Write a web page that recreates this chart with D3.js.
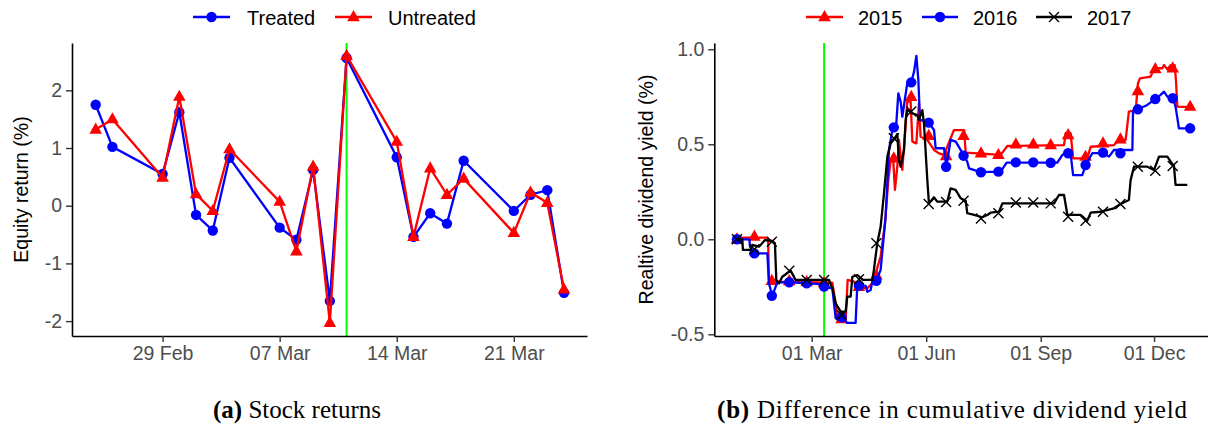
<!DOCTYPE html>
<html>
<head>
<meta charset="utf-8">
<script src="https://cdn.jsdelivr.net/npm/d3@7"></script>
<style>
  body { margin: 0; background: #fff; }
  svg { display: block; font-family: "Liberation Sans", Arial, sans-serif; }
</style>
</head>
<body>
<svg id="chart" width="1208" height="430"></svg>
<script>
// ---- panel (a): daily stock returns, 2016 ----
const retDates = ["2016-02-25","2016-02-26","2016-02-29","2016-03-01","2016-03-02","2016-03-03","2016-03-04",
  "2016-03-07","2016-03-08","2016-03-09","2016-03-10","2016-03-11","2016-03-14","2016-03-15","2016-03-16",
  "2016-03-17","2016-03-18","2016-03-21","2016-03-22","2016-03-23","2016-03-24"];
const treated   = [1.75, 1.02, 0.55, 1.62, -0.16, -0.43, 0.83, -0.38, -0.59, 0.62, -1.65, 2.56, 0.84, -0.54, -0.13, -0.31, 0.78, -0.09, 0.19, 0.27, -1.51];
const untreated = [1.32, 1.50, 0.49, 1.89, 0.20, -0.09, 0.98, 0.07, -0.79, 0.68, -2.03, 2.60, 1.11, -0.54, 0.65, 0.19, 0.47, -0.47, 0.23, 0.05, -1.45];
const retTicks = ["2016-02-29","2016-03-07","2016-03-14","2016-03-21"];
const retYTicks = [-2, -1, 0, 1, 2];
const eventDate = "2016-03-11";

// ---- panel (b): relative cumulative dividend yield, [day of year, value] ----
const line2015 = [[0,0],[4.3,0.009],[23,0.009],[25,0.005],[25.7,-0.214],[33.8,-0.223],[76.6,-0.228],[79.3,-0.337],
  [80.6,-0.421],[87.3,-0.425],[88.9,-0.214],[94,-0.223],[98,-0.25],[104.7,-0.258],[108.7,-0.232],[111.4,-0.179],
  [115.4,-0.091],[118.9,0.084],[121.6,0.312],[123.5,0.417],[125.3,0.444],[126.9,0.26],[128.8,0.382],[130.1,0.523],
  [132.8,0.365],[135,0.558],[136.8,0.724],[139.5,0.724],[140.9,0.514],[144.1,0.505],[146.2,0.716],[147.5,0.54],
  [152.9,0.523],[158.3,0.47],[162.3,0.452],[166.3,0.444],[174.3,0.575],[182.5,0.575],[183.7,0.456],[211.8,0.444],
  [217.2,0.491],[262.7,0.496],[264,0.558],[268,0.558],[270,0.426],[281.4,0.426],[284.1,0.487],[302.8,0.496],
  [306.8,0.523],[312.2,0.523],[314.8,0.672],[320.3,0.68],[322.1,0.821],[323.7,0.847],[332.3,0.856],[335,0.9],
  [341.7,0.9],[343,0.917],[345.7,0.894],[348.4,0.917],[351.6,0.917],[352.6,0.838],[353.7,0.698],[363.8,0.695]];
const line2016 = [[0,0],[10,0],[10.5,-0.04],[14.5,-0.074],[24.4,-0.074],[25.7,-0.232],[28.4,-0.297],[32.4,-0.227],
  [42,-0.226],[56,-0.232],[65,-0.235],[70,-0.249],[76.6,-0.258],[79.3,-0.416],[84.1,-0.41],[88.6,-0.44],[95.3,-0.44],
  [96.7,-0.238],[98,-0.241],[103.4,-0.245],[104.7,-0.276],[107.4,-0.267],[108.7,-0.223],[112,-0.218],[115.4,-0.161],
  [119.4,0.119],[122.1,0.47],[124.8,0.575],[126.1,0.589],[128,0.61],[129.6,0.768],[131.5,0.724],[132.8,0.645],
  [136.8,0.821],[140,0.826],[142.2,0.881],[144.1,0.965],[145.7,0.838],[147,0.628],[151.6,0.619],[154,0.614],
  [158.3,0.575],[159.6,0.479],[166.3,0.479],[168.2,0.382],[171.6,0.523],[175.7,0.514],[182.4,0.44],[185,0.408],
  [186.4,0.373],[195.7,0.353],[211.8,0.356],[216.6,0.403],[257.3,0.403],[261.4,0.444],[265.4,0.461],[268.1,0.444],
  [270,0.338],[277.4,0.338],[280.1,0.391],[285.4,0.453],[294.8,0.453],[298.8,0.435],[302.8,0.47],[317.6,0.47],
  [318.1,0.672],[322.1,0.684],[329.6,0.707],[335.8,0.738],[340.3,0.76],[343,0.777],[345.7,0.751],[350.2,0.742],
  [352.3,0.698],[355,0.584],[363.8,0.584]];
const line2017 = [[0,0],[4.3,0],[4.8,-0.056],[11,-0.056],[12.3,-0.03],[17.7,-0.039],[22.5,-0.004],[28.4,-0.009],
  [30.5,-0.021],[31.6,-0.214],[33.8,-0.232],[36.4,-0.197],[43.1,-0.165],[47.1,-0.214],[73.9,-0.214],[76.6,-0.258],
  [79.3,-0.337],[83.3,-0.381],[87.3,-0.381],[88.6,-0.302],[91.3,-0.302],[92.7,-0.197],[96.7,-0.188],[101.2,-0.214],
  [108.7,-0.214],[110,-0.161],[112.7,-0.021],[115.4,0.066],[118.1,0.242],[120.8,0.435],[123.5,0.505],[126.9,0.532],
  [128.8,0.554],[130.1,0.417],[131.5,0.382],[134.2,0.47],[135.5,0.628],[136.8,0.68],[140.9,0.663],[144.9,0.654],
  [146.2,0.628],[148.9,0.68],[150.2,0.61],[151,0.523],[152.9,0.312],[154.2,0.189],[158.2,0.221],[160.9,0.198],
  [168.9,0.198],[171.6,0.268],[175.6,0.26],[179.7,0.216],[183.7,0.203],[185,0.137],[189,0.131],[197.1,0.116],
  [201.1,0.128],[203.8,0.14],[210.5,0.145],[213.2,0.189],[254.7,0.189],[258.6,0.233],[262.7,0.233],[265.4,0.128],
  [276,0.128],[281.4,0.098],[284.1,0.14],[292.1,0.145],[302.8,0.163],[308.2,0.186],[314.8,0.207],[316.2,0.312],
  [318.9,0.382],[329.6,0.382],[335,0.365],[339,0.435],[345.7,0.435],[348.4,0.409],[351,0.386],[352.3,0.286],[361.7,0.286]];
// markers every 14 days (day 0, 14, 28, ...)
const mark2015 = [0, 0.014, -0.218, -0.22, -0.225, -0.23, -0.42, -0.25, -0.19, 0.426, 0.75, 0.545, 0.438, 0.544,
  0.453, 0.444, 0.5, 0.5, 0.496, 0.549, 0.435, 0.505, 0.526, 0.78, 0.896, 0.9, 0.698];
const mark2016 = [0, -0.074, -0.297, -0.226, -0.232, -0.249, -0.41, -0.244, -0.218, 0.589, 0.826, 0.614, 0.382, 0.44,
  0.353, 0.356, 0.405, 0.405, 0.403, 0.453, 0.391, 0.456, 0.453, 0.684, 0.738, 0.742, 0.584];
const mark2017 = [0, -0.053, -0.013, -0.165, -0.214, -0.214, -0.398, -0.21, -0.021, 0.532, 0.672, 0.186, 0.196, 0.203,
  0.11, 0.137, 0.193, 0.193, 0.189, 0.119, 0.098, 0.145, 0.186, 0.382, 0.361, 0.386];
const divTicks = ["2016-03-01","2016-06-01","2016-09-01","2016-12-01"];
const divYTicks = [-0.5, 0, 0.5, 1.0];
const eventDay = 70;

const parse = d3.timeParse("%Y-%m-%d");
const dayToDate = d => new Date(new Date(2016, 0, 1).getTime() + d * 864e5);
const svg = d3.select("#chart");
const tickGrey = "#4d4d4d";
const FS = 19.5;

function styleAxis(g) {
  g.select(".domain").attr("stroke", "#000").attr("stroke-width", 1.6);
  g.selectAll(".tick line").attr("stroke", "#333").attr("stroke-width", 1.4);
  g.selectAll(".tick text").attr("fill", tickGrey).attr("font-size", FS)
    .attr("font-family", "Liberation Sans, Arial, sans-serif");
}

function triangle(sel, s) {
  return sel.attr("d", `M0,${-s}L${s*0.9},${s*0.6}L${-s*0.9},${s*0.6}Z`);
}
function cross(sel, s) {
  return sel.attr("d", `M${-s},${-s}L${s},${s}M${-s},${s}L${s},${-s}`);
}

// ================= panel (a) =================
const yTop = 43, yBot = 336;
let xA = d3.scaleTime()
  .domain([d3.timeHour.offset(parse(retDates[0]), -33.6), d3.timeHour.offset(parse(retDates[retDates.length-1]), 33.6)])
  .range([72, 587]);
let yA = d3.scaleLinear().domain([-2.258, 2.82]).range([yBot, yTop]);

svg.append("line").attr("x1", xA(parse(eventDate))).attr("x2", xA(parse(eventDate)))
  .attr("y1", yTop).attr("y2", yBot).attr("stroke", "#00ff00").attr("stroke-width", 2);

let lineA = d3.line().x((d, i) => xA(parse(retDates[i]))).y(d => yA(d));
svg.append("path").datum(treated).attr("d", lineA).attr("fill", "none").attr("stroke", "#0000ff").attr("stroke-width", 2.3);
svg.append("g").selectAll("circle").data(treated).join("circle")
  .attr("cx", (d, i) => xA(parse(retDates[i]))).attr("cy", d => yA(d)).attr("r", 5.2).attr("fill", "#0000ff");
svg.append("path").datum(untreated).attr("d", lineA).attr("fill", "none").attr("stroke", "#ff0000").attr("stroke-width", 2.3);
svg.append("g").selectAll("path").data(untreated).join("path")
  .attr("transform", (d, i) => `translate(${xA(parse(retDates[i]))},${yA(d)})`)
  .call(triangle, 7).attr("fill", "#ff0000");

svg.append("g").attr("transform", `translate(72,0)`)
  .call(d3.axisLeft(yA).tickValues(retYTicks).tickFormat(d => String(d)).tickSize(6).tickSizeOuter(0).tickPadding(4))
  .call(styleAxis);
svg.append("g").attr("transform", `translate(0,${yBot})`)
  .call(d3.axisBottom(xA).tickValues(retTicks.map(parse)).tickFormat(d3.timeFormat("%d %b")).tickSize(6).tickSizeOuter(0).tickPadding(4))
  .call(styleAxis);

svg.append("text").attr("transform", `translate(28,${(yTop+yBot)/2}) rotate(-90)`)
  .attr("text-anchor", "middle").attr("font-size", FS).attr("fill", "#000").text("Equity return (%)");

// legend (a)
let lg = svg.append("g").attr("font-size", 20);
lg.append("line").attr("x1", 193).attr("x2", 230).attr("y1", 17).attr("y2", 17).attr("stroke", "#0000ff").attr("stroke-width", 2.3);
lg.append("circle").attr("cx", 211.5).attr("cy", 17).attr("r", 5.2).attr("fill", "#0000ff");
lg.append("text").attr("x", 247).attr("y", 24.5).text("Treated");
lg.append("line").attr("x1", 335).attr("x2", 372).attr("y1", 17).attr("y2", 17).attr("stroke", "#ff0000").attr("stroke-width", 2.3);
lg.append("path").attr("transform", "translate(353.5,17)").call(triangle, 7).attr("fill", "#ff0000");
lg.append("text").attr("x", 388).attr("y", 24.5).text("Untreated");

// ================= panel (b) =================
let xB = d3.scaleLinear().domain([-18.2, 382]).range([714.3, 714.3 + 400.2 * 1.245]);
let xBt = d3.scaleTime().domain([dayToDate(-18.2), dayToDate(382)]).range(xB.range());
let yB = d3.scaleLinear().domain([-0.509, 1.033]).range([yBot, yTop]);

svg.append("line").attr("x1", xB(eventDay)).attr("x2", xB(eventDay))
  .attr("y1", yTop).attr("y2", yBot).attr("stroke", "#00ff00").attr("stroke-width", 2);

let lineB = d3.line().x(d => xB(d[0])).y(d => yB(d[1]));
const series = [
  {line: line2015, marks: mark2015, col: "#ff0000", shape: "tri"},
  {line: line2016, marks: mark2016, col: "#0000ff", shape: "circ"},
  {line: line2017, marks: mark2017, col: "#000000", shape: "x"}
];
series.forEach(s => {
  svg.append("path").datum(s.line).attr("d", lineB).attr("fill", "none")
    .attr("stroke", s.col).attr("stroke-width", 2.3).attr("stroke-linejoin", "round");
  let g = svg.append("g");
  if (s.shape === "circ") {
    g.selectAll("circle").data(s.marks).join("circle")
      .attr("cx", (d, i) => xB(i * 14)).attr("cy", d => yB(d)).attr("r", 5.2).attr("fill", s.col);
  } else if (s.shape === "tri") {
    g.selectAll("path").data(s.marks).join("path")
      .attr("transform", (d, i) => `translate(${xB(i * 14)},${yB(d)})`).call(triangle, 7).attr("fill", s.col);
  } else {
    g.selectAll("path").data(s.marks).join("path")
      .attr("transform", (d, i) => `translate(${xB(i * 14)},${yB(d)})`).call(cross, 5)
      .attr("fill", "none").attr("stroke", s.col).attr("stroke-width", 1.4);
  }
});

svg.append("g").attr("transform", `translate(714.3,0)`)
  .call(d3.axisLeft(yB).tickValues(divYTicks).tickFormat(d => d.toFixed(1)).tickSize(6).tickSizeOuter(0).tickPadding(4))
  .call(styleAxis);
svg.append("g").attr("transform", `translate(0,${yBot})`)
  .call(d3.axisBottom(xBt).tickValues(divTicks.map(parse)).tickFormat(d3.timeFormat("%d %b")).tickSize(6).tickSizeOuter(0).tickPadding(4))
  .call(styleAxis);

svg.append("text").attr("transform", `translate(653,${(yTop+yBot)/2}) rotate(-90)`)
  .attr("text-anchor", "middle").attr("font-size", FS).attr("fill", "#000").text("Realtive dividend yield (%)");

// legend (b)
let lg2 = svg.append("g").attr("font-size", 20);
lg2.append("line").attr("x1", 806).attr("x2", 843).attr("y1", 17).attr("y2", 17).attr("stroke", "#ff0000").attr("stroke-width", 2.3);
lg2.append("path").attr("transform", "translate(824.5,17)").call(triangle, 7).attr("fill", "#ff0000");
lg2.append("text").attr("x", 858).attr("y", 24.5).text("2015");
lg2.append("line").attr("x1", 922).attr("x2", 958).attr("y1", 17).attr("y2", 17).attr("stroke", "#0000ff").attr("stroke-width", 2.3);
lg2.append("circle").attr("cx", 940).attr("cy", 17).attr("r", 5.2).attr("fill", "#0000ff");
lg2.append("text").attr("x", 973).attr("y", 24.5).text("2016");
lg2.append("line").attr("x1", 1036).attr("x2", 1072).attr("y1", 17).attr("y2", 17).attr("stroke", "#000").attr("stroke-width", 2.3);
lg2.append("path").attr("transform", "translate(1054,17)").call(cross, 5).attr("stroke", "#000").attr("stroke-width", 1.4);
lg2.append("text").attr("x", 1087).attr("y", 24.5).text("2017");

// captions
let cap = svg.append("g").attr("font-family", "Liberation Serif, Times New Roman, serif").attr("font-size", 25).attr("fill", "#000");
let ca = cap.append("text").attr("x", 297).attr("y", 418).attr("text-anchor", "middle");
ca.append("tspan").attr("font-weight", "bold").text("(a)");
ca.append("tspan").text(" Stock returns");
let cb = cap.append("text").attr("x", 952).attr("y", 418).attr("text-anchor", "middle")
  .attr("textLength", 470).attr("lengthAdjust", "spacing");
cb.append("tspan").attr("font-weight", "bold").text("(b)");
cb.append("tspan").text(" Difference in cumulative dividend yield");
</script>
</body>
</html>
